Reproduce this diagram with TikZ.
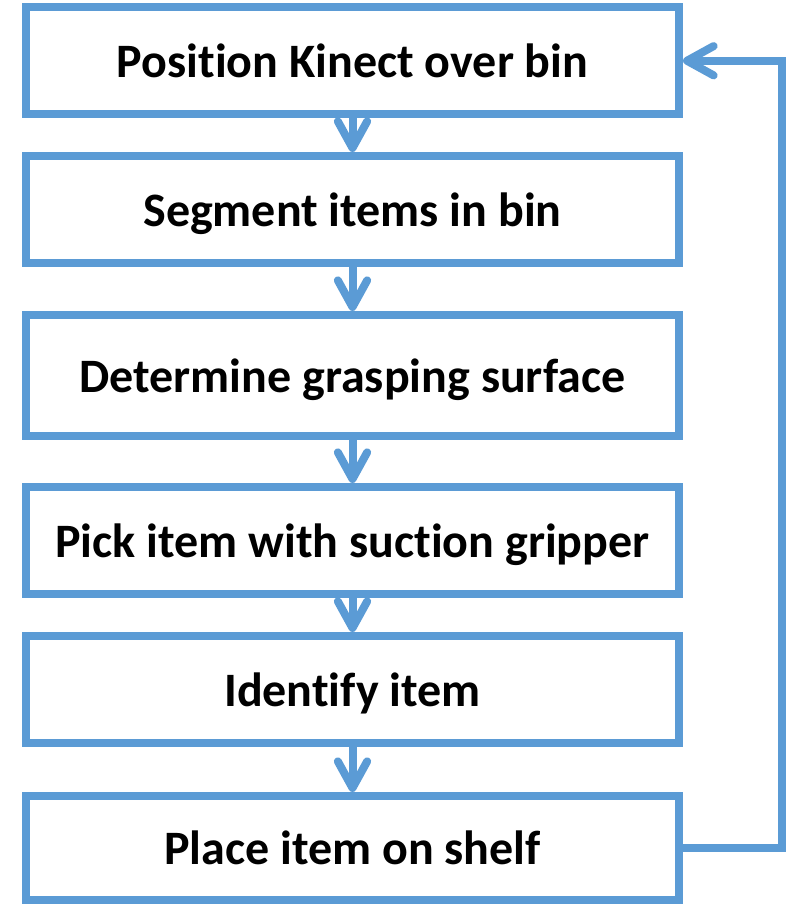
\documentclass[tikz,border=0pt]{standalone}
\usepackage{fontspec}
\setmainfont[Ligatures=NoCommon]{Carlito}
\usetikzlibrary{arrows.meta}
\definecolor{boxblue}{HTML}{5B9BD5}
\begin{document}
\begin{tikzpicture}[x=0.75pt,y=-0.75pt,
  stepbox/.style={draw=boxblue, line width=6pt, minimum width=489.75pt, inner sep=0pt,
    text depth=0pt, font=\fontsize{36}{43}\selectfont\bfseries, text=black},
  flow/.style={draw=boxblue, line width=6pt,
    -{Straight Barb[length=20pt, width=22pt, round]}}]
\useasboundingbox (0,0) rectangle (800,904);
\node[stepbox, minimum height=80.6pt]  (b1) at (352.5,60.75) {Position Kinect over bin};
\node[stepbox, minimum height=80.25pt] (b2) at (352.5,209.5) {Segment items in bin};
\node[stepbox, minimum height=90.75pt] (b3) at (352.5,375.5) {Determine grasping surface};
\node[stepbox, minimum height=80.25pt] (b4) at (352.5,540.5) {Pick item with suction gripper};
\node[stepbox, minimum height=80.25pt] (b5) at (352.5,689.5) {Identify item};
\node[stepbox, minimum height=78pt]    (b6) at (352.5,848) {Place item on shelf};
\draw[flow] (b1) -- (b2);
\draw[flow] (b2) -- (b3);
\draw[flow] (b3) -- (b4);
\draw[flow] (b4) -- (b5);
\draw[flow] (b5) -- (b6);
\coordinate (fbtop) at (782,60.75);
\draw[flow] (b6.east) -| (fbtop) -- (b1.east);
\end{tikzpicture}
\end{document}
